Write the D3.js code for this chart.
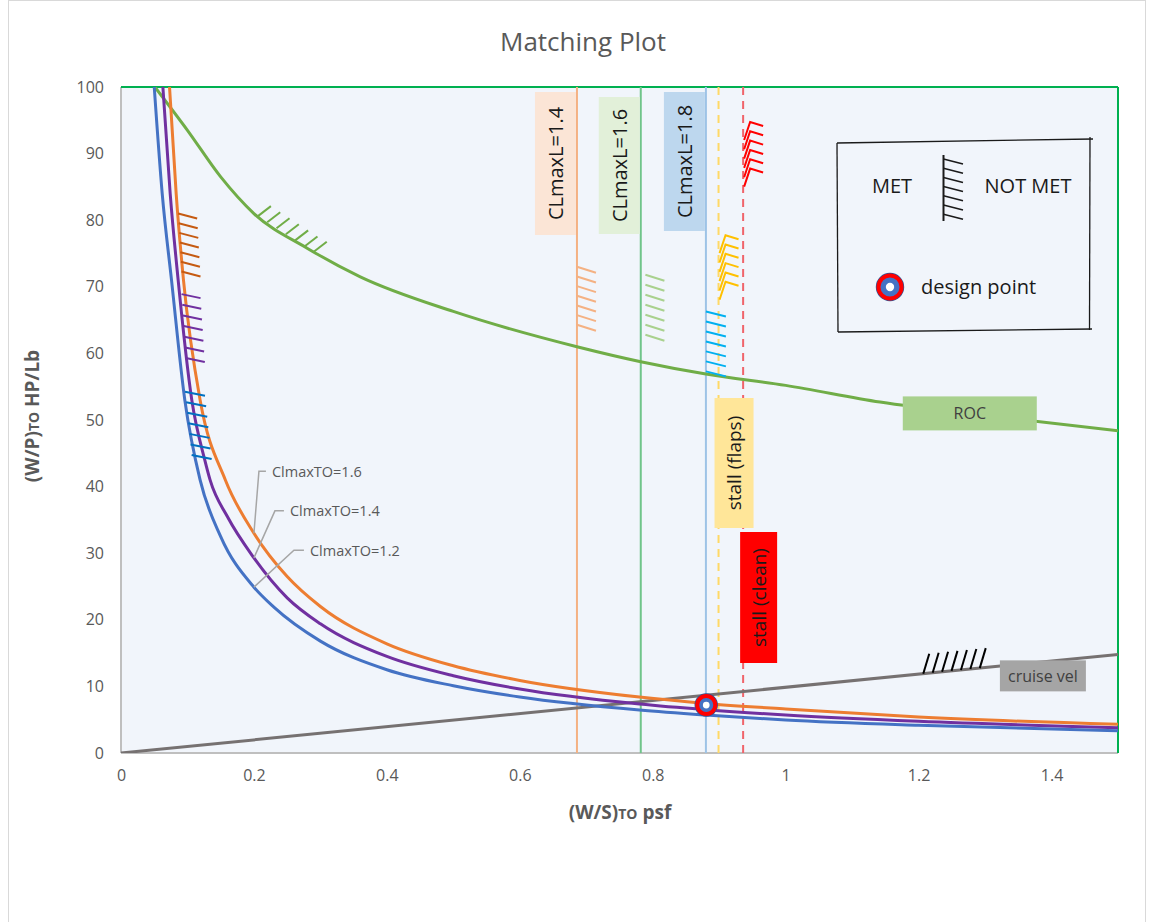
<!DOCTYPE html>
<html>
<head>
<meta charset="utf-8">
<title>Matching Plot</title>
<script src="https://cdn.jsdelivr.net/npm/d3@7"></script>
<style>
  html, body { margin: 0; padding: 0; background: #ffffff; }
  svg { display: block; font-family: "Open Sans", "Noto Sans", sans-serif; }
</style>
</head>
<body>
<svg id="chart" width="1155" height="922"></svg>
<script>
// ---- data ----------------------------------------------------------------
// Take-off requirement curves, W/P vs W/S
const toBlueWS   = [0.050, 0.062, 0.076, 0.096, 0.119, 0.15, 0.2, 0.23, 0.3, 0.4, 0.5, 0.6, 0.78, 0.88, 1.0, 1.2, 1.5];
const toBlueWP   = [100, 84, 71, 53, 41, 32.5, 24.9, 21.9, 16.8, 12.5, 10.1, 8.4, 6.45, 5.7, 4.95, 4.15, 3.35];
const toPurpleWS = [0.063, 0.074, 0.086, 0.1065, 0.126, 0.134, 0.16, 0.2, 0.25, 0.3, 0.4, 0.5, 0.6, 0.78, 0.88, 1.0, 1.2, 1.5];
const toPurpleWP = [100, 84, 71, 53, 44, 41, 35.5, 29.3, 23.3, 19.4, 14.5, 11.6, 9.6, 7.35, 6.5, 5.7, 4.75, 3.8];
const toOrangeWS = [0.073, 0.083, 0.094, 0.119, 0.157, 0.2, 0.25, 0.3, 0.4, 0.5, 0.6, 0.78, 0.88, 1.0, 1.2, 1.5];
const toOrangeWP = [100, 84, 71, 53, 41, 33, 26.5, 22, 16.4, 13.1, 10.9, 8.4, 7.45, 6.6, 5.4, 4.3];
const toLabels   = ["ClmaxTO=1.2", "ClmaxTO=1.4", "ClmaxTO=1.6"];

// Rate of climb requirement
const rocWS = [0.051, 0.1, 0.15, 0.2, 0.28, 0.36, 0.5, 0.686, 0.782, 0.88, 1.0, 1.142, 1.3, 1.5];
const rocWP = [100, 93.5, 86.5, 81, 75.8, 71.5, 66.3, 61, 58.75, 56.9, 55.2, 52.7, 50.7, 48.4];

// Cruise speed requirement (straight line)
const cruiseWS = [0, 1.5];
const cruiseWP = [0, 14.8];

// Landing / stall limits on W/S
const landingLabels = ["CLmaxL=1.4", "CLmaxL=1.6", "CLmaxL=1.8"];
const landingWS     = [0.686, 0.782, 0.880];
const stallLabels   = ["stall (flaps)", "stall (clean)"];
const stallWS       = [0.899, 0.936];

// Chosen design point
const designWS = 0.8805;
const designWP = 7.2;

// Axis ticks
const xTicks = [0, 0.2, 0.4, 0.6, 0.8, 1.0, 1.2, 1.4];
const yTicks = [0, 10, 20, 30, 40, 50, 60, 70, 80, 90, 100];

// ---- layout --------------------------------------------------------------
const svg = d3.select("#chart");
const x = d3.scaleLinear().domain([0, 1.5]).range([121, 1118]);
const y = d3.scaleLinear().domain([0, 100]).range([753, 87]);

const zip = (a, b) => a.map((v, i) => [v, b[i]]);
const interp = (xs, ys, v) => {
  for (let i = 0; i < xs.length - 1; i++) {
    if (v >= xs[i] && v <= xs[i + 1]) {
      const t = (v - xs[i]) / (xs[i + 1] - xs[i]);
      return ys[i] + t * (ys[i + 1] - ys[i]);
    }
  }
  return ys[ys.length - 1];
};

// outer frame
svg.append("rect").attr("x", 8.5).attr("y", 0.5).attr("width", 1137).attr("height", 930)
  .attr("fill", "#ffffff").attr("stroke", "#d9d9d9");

// title
svg.append("text").attr("x", 583).attr("y", 51).attr("text-anchor", "middle")
  .attr("font-size", 26).attr("fill", "#595959").text("Matching Plot");

// plot background
svg.append("rect").attr("x", x(0)).attr("y", y(100)).attr("width", x(1.5) - x(0)).attr("height", y(0) - y(100))
  .attr("fill", "#f1f5fb");

svg.append("clipPath").attr("id", "plotclip").append("rect")
  .attr("x", x(0)).attr("y", y(100)).attr("width", x(1.5) - x(0)).attr("height", y(0) - y(100));

// axes
const xAxis = d3.axisBottom(x).tickValues(xTicks).tickSize(0).tickPadding(17)
  .tickFormat(d => d3.format("~g")(d));
const yAxis = d3.axisLeft(y).tickValues(yTicks).tickSize(0).tickPadding(17);

const gx = svg.append("g").attr("transform", `translate(0,${y(0)})`).call(xAxis);
const gy = svg.append("g").attr("transform", `translate(${x(0)},0)`).call(yAxis);
[gx, gy].forEach(g => {
  g.select(".domain").remove();
  g.selectAll("text").attr("font-size", 16).attr("fill", "#595959")
    .attr("font-family", "'Open Sans', sans-serif");
});

// plot borders: gray axis lines, green top/right
svg.append("line").attr("x1", x(0)).attr("x2", x(0)).attr("y1", y(100)).attr("y2", y(0))
  .attr("stroke", "#bfbfbf").attr("stroke-width", 2);
svg.append("line").attr("x1", x(0)).attr("x2", x(1.5)).attr("y1", y(0)).attr("y2", y(0))
  .attr("stroke", "#bfbfbf").attr("stroke-width", 2);
svg.append("line").attr("x1", x(0)).attr("x2", x(1.5)).attr("y1", y(100)).attr("y2", y(100))
  .attr("stroke", "#00b050").attr("stroke-width", 2);
svg.append("line").attr("x1", x(1.5)).attr("x2", x(1.5)).attr("y1", y(100)).attr("y2", y(0))
  .attr("stroke", "#00b050").attr("stroke-width", 2);

// axis titles
const xt = svg.append("text").attr("x", 620).attr("y", 819).attr("text-anchor", "middle")
  .attr("font-size", 19).attr("font-weight", "bold").attr("fill", "#595959");
xt.append("tspan").text("(W/S)");
xt.append("tspan").attr("font-size", 14).text("TO");
xt.append("tspan").text(" psf");

const yt = svg.append("text").attr("transform", "translate(39,416) rotate(-90)").attr("text-anchor", "middle")
  .attr("font-size", 19).attr("font-weight", "bold").attr("fill", "#595959");
yt.append("tspan").text("(W/P)");
yt.append("tspan").attr("font-size", 14).text("TO");
yt.append("tspan").text(" HP/Lb");

const plot = svg.append("g").attr("clip-path", "url(#plotclip)");
const line = d3.line().x(d => x(d[0])).y(d => y(d[1])).curve(d3.curveMonotoneX);

// landing / stall vertical limits
const landingColors = ["#f4b183", "#70c48a", "#9dc3e6"];
landingWS.forEach((v, i) => {
  plot.append("line").attr("x1", x(v)).attr("x2", x(v)).attr("y1", y(100)).attr("y2", y(0))
    .attr("stroke", landingColors[i]).attr("stroke-width", 2);
});
const stallColors = ["#ffd966", "#f0646a"];
stallWS.forEach((v, i) => {
  plot.append("line").attr("x1", x(v)).attr("x2", x(v)).attr("y1", y(100)).attr("y2", y(0))
    .attr("stroke", stallColors[i]).attr("stroke-width", 2).attr("stroke-dasharray", "8,6");
});

// requirement curves
plot.append("path").datum(zip(rocWS, rocWP)).attr("d", line)
  .attr("fill", "none").attr("stroke", "#70ad47").attr("stroke-width", 3);
plot.append("path").datum(zip(cruiseWS, cruiseWP)).attr("d", line)
  .attr("fill", "none").attr("stroke", "#767171").attr("stroke-width", 3);
const toSeries = [
  { ws: toOrangeWS, wp: toOrangeWP, color: "#ed7d31" },
  { ws: toPurpleWS, wp: toPurpleWP, color: "#7030a0" },
  { ws: toBlueWS,   wp: toBlueWP,   color: "#4472c4" }
];
toSeries.forEach(s => {
  plot.append("path").datum(zip(s.ws, s.wp)).attr("d", line)
    .attr("fill", "none").attr("stroke", s.color).attr("stroke-width", 3);
});

// hatch marks on the infeasible side of each constraint
function hatch(points, dx, dy, color, width) {
  const g = svg.append("g").attr("stroke", color).attr("stroke-width", width || 2);
  points.forEach(p => {
    g.append("line").attr("x1", x(p[0])).attr("y1", y(p[1]))
      .attr("x2", x(p[0]) + dx).attr("y2", y(p[1]) + dy);
  });
}
// hooked strokes used on the stall limits: steep slash with a short cap
function hookHatch(points, color) {
  const g = svg.append("g").attr("stroke", color).attr("stroke-width", 2).attr("fill", "none");
  points.forEach(p => {
    const px = x(p[0]), py = y(p[1]);
    g.append("polyline").attr("points", `${px + 1},${py + 9} ${px + 7},${py - 9} ${px + 20},${py - 5}`);
  });
}
const spread = (a, b, n) => d3.range(n).map(i => a + (b - a) * i / (n - 1));

hatch(spread(81, 72.3, 7).map((v, i) => [0.086 + 0.005 * i / 6, v]), 19, 5, "#c55a11");
hatch(spread(68.9, 59.3, 7).map((v, i) => [0.0911 + 0.0064 * i / 6, v]), 19, 4, "#7030a0");
hatch(spread(54.25, 44.75, 7).map((v, i) => [0.0963 + 0.01 * i / 6, v]), 20, 4, "#0070c0");
hatch(spread(0.206, 0.29, 7).map(v => [v, interp(rocWS, rocWP, v)]), 13, -10, "#70ad47");
hatch(spread(73, 64.3, 7).map(v => [landingWS[0], v]), 19, 6, "#f4b183");
hatch(spread(71.8, 62.8, 7).map(v => [landingWS[1] + 0.007, v]), 19, 6, "#a9d18e");
hatch(spread(66.3, 57.3, 7).map(v => [landingWS[2], v]), 20, 5, "#00b0f0");
hookHatch(spread(76.4, 69.4, 6).map(v => [stallWS[0], v]), "#ffc000");
hookHatch(spread(93.4, 86.4, 6).map(v => [stallWS[1], v]), "#ff0000");
hatch(spread(1.207, 1.292, 7).map(v => [v, interp(cruiseWS, cruiseWP, v)]), 6, -20, "#000000");

// landing / stall labels (rotated text boxes left of their lines)
const boxLabel = (x0, y0, w, h, fill, label, fs, color) => {
  svg.append("rect").attr("x", x0).attr("y", y0).attr("width", w).attr("height", h).attr("fill", fill);
  svg.append("text").attr("transform", `translate(${x0 + w / 2},${y0 + h / 2}) rotate(-90)`)
    .attr("text-anchor", "middle").attr("dominant-baseline", "central")
    .attr("font-size", fs).attr("fill", color).text(label);
};
const landingFill = ["#fbe5d6", "#e2f0d9", "#bdd7ee"];
const landingTop = [92, 97, 92];
const landingH = [143, 137, 139];
landingWS.forEach((v, i) => {
  boxLabel(x(v) - 42, landingTop[i], 41, landingH[i], landingFill[i], landingLabels[i], 20, "#1a1a1a");
});
boxLabel(x(stallWS[0]) - 4, 398, 39, 130, "#ffe699", stallLabels[0], 19, "#1a1a1a");
boxLabel(x(stallWS[1]) - 3, 532, 37, 131, "#ff0000", stallLabels[1], 19, "#1a1a1a");

// ROC and cruise labels
const flatLabel = (cx, cy, w, h, fill, label) => {
  svg.append("rect").attr("x", cx - w / 2).attr("y", cy - h / 2).attr("width", w).attr("height", h).attr("fill", fill);
  svg.append("text").attr("x", cx).attr("y", cy).attr("text-anchor", "middle").attr("dominant-baseline", "central")
    .attr("font-size", 16).attr("fill", "#404040").text(label);
};
flatLabel(x(1.277), y(interp(rocWS, rocWP, 1.277)), 134, 34, "#a9d18e", "ROC");
flatLabel(x(1.387), y(interp(cruiseWS, cruiseWP, 1.387)) + 14, 86, 31, "#a5a5a5", "cruise vel");

// take-off curve callouts
const callouts = [
  { ws: toBlueWS, wp: toBlueWP, dx: 40, dy: -37, run: 10, label: toLabels[0] },
  { ws: toPurpleWS, wp: toPurpleWP, dx: 21, dy: -47, run: 9, label: toLabels[1] },
  { ws: toOrangeWS, wp: toOrangeWP, dx: 5, dy: -62, run: 7, label: toLabels[2] }
];
callouts.forEach(c => {
  const px = x(0.2), py = y(interp(c.ws, c.wp, 0.2));
  svg.append("polyline")
    .attr("points", `${px},${py} ${px + c.dx},${py + c.dy} ${px + c.dx + c.run},${py + c.dy}`)
    .attr("fill", "none").attr("stroke", "#a6a6a6").attr("stroke-width", 1.5);
  svg.append("text").attr("x", px + c.dx + c.run + 6).attr("y", py + c.dy).attr("dominant-baseline", "central")
    .attr("font-size", 14.5).attr("fill", "#595959").text(c.label);
});

// design point marker
const marker = (g, cx, cy, r) => {
  g.append("circle").attr("cx", cx).attr("cy", cy).attr("r", r + 1.2).attr("fill", "#2f5597");
  g.append("circle").attr("cx", cx).attr("cy", cy).attr("r", r - 1.5).attr("fill", "#4472c4")
    .attr("stroke", "#ff0000").attr("stroke-width", 4);
  g.append("circle").attr("cx", cx).attr("cy", cy).attr("r", r * 0.32).attr("fill", "#ffffff");
};
marker(svg, x(designWS), y(designWP), 10.5);

// legend box
const lg = svg.append("g").attr("stroke", "#1a1a1a").attr("stroke-width", 1.3).attr("fill", "none");
lg.append("line").attr("x1", 837).attr("y1", 143).attr("x2", 1093).attr("y2", 139);
lg.append("line").attr("x1", 1090).attr("y1", 137).attr("x2", 1089.5).attr("y2", 330);
lg.append("line").attr("x1", 838).attr("y1", 332).attr("x2", 1092).attr("y2", 329);
lg.append("line").attr("x1", 837).attr("y1", 143).attr("x2", 838).attr("y2", 332);
lg.append("line").attr("x1", 943.5).attr("y1", 155).attr("x2", 943.5).attr("y2", 221).attr("stroke-width", 2);
d3.range(7).forEach(i => {
  const yy = 159 + i * 9.2;
  lg.append("line").attr("x1", 943.5).attr("y1", yy).attr("x2", 963).attr("y2", yy + 5).attr("stroke-width", 1.6);
});
svg.append("text").attr("x", 892).attr("y", 193).attr("text-anchor", "middle")
  .attr("font-size", 20).attr("fill", "#1a1a1a").text("MET");
svg.append("text").attr("x", 1028).attr("y", 193).attr("text-anchor", "middle")
  .attr("font-size", 20).attr("fill", "#1a1a1a").text("NOT MET");
marker(svg, 890, 287, 13);
svg.append("text").attr("x", 921).attr("y", 294)
  .attr("font-size", 20).attr("fill", "#1a1a1a").text("design point");
</script>
</body>
</html>
